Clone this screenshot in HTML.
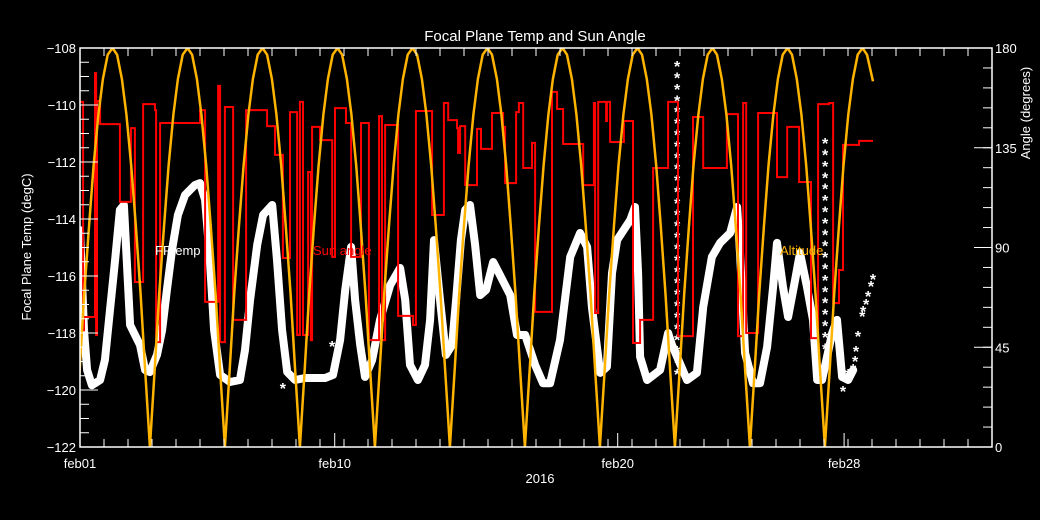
<!DOCTYPE html>
<html><head><meta charset="utf-8"><style>
html,body{margin:0;padding:0;background:#000;}
svg{display:block;}
text{font-family:"Liberation Sans",sans-serif;}
</style></head><body>
<svg id="chart" width="1040" height="520" viewBox="0 0 1040 520" xmlns="http://www.w3.org/2000/svg">
<rect width="1040" height="520" fill="#000"/>
<text x="535" y="41" fill="#fff" font-size="15" text-anchor="middle">Focal Plane Temp and Sun Angle</text>
<defs><clipPath id="plotclip"><rect x="80" y="48" width="912" height="399"/></clipPath></defs>
<g id="marks" clip-path="url(#plotclip)"></g>
<g id="axes"></g>
<text x="155" y="255" fill="#fff" font-size="13">FPtemp</text>
<text x="313" y="255" fill="#ff0000" font-size="13">Sun angle</text>
<text x="780" y="255" fill="#ffb400" font-size="13">Altitude</text>
<text x="540" y="483" fill="#fff" font-size="13" text-anchor="middle">2016</text>
<text transform="translate(31,247) rotate(-90)" fill="#fff" font-size="13" text-anchor="middle">Focal Plane Temp (degC)</text>
<text transform="translate(1030,113) rotate(-90)" fill="#fff" font-size="13" text-anchor="middle">Angle (degrees)</text>
</svg>
<script>
const xTickDays = [1, 10, 20, 28];
const xTickLabels = ['feb01', 'feb10', 'feb20', 'feb28'];
const yTicksLeft = [-122, -120, -118, -116, -114, -112, -110, -108];
const yTicksRight = [0, 45, 90, 135, 180];

const sunDay = [
 0.82,0.99,1.15,1.32,1.48,1.65,1.81,1.98,2.15,2.31,2.48,2.64,2.81,2.97,3.14,3.30,
 3.47,3.64,3.80,3.97,4.13,4.30,4.46,4.63,4.80,4.96,5.13,5.29,5.46,5.62,5.79,5.95,
 6.12,6.29,6.45,6.62,6.78,6.95,7.11,7.28,7.45,7.61,7.78,7.94,8.11,8.27,8.44,8.60,
 8.77,8.94,9.10,9.27,9.43,9.60,9.76,9.93,10.10,10.26,10.43,10.59,10.76,10.92,11.09,11.25,
 11.42,11.59,11.75,11.92,12.08,12.25,12.41,12.58,12.75,12.91,13.08,13.24,13.41,13.57,13.74,13.90,
 14.07,14.24,14.40,14.57,14.73,14.90,15.06,15.23,15.40,15.56,15.73,15.89,16.06,16.22,16.39,16.55,
 16.72,16.89,17.05,17.22,17.38,17.55,17.71,17.88,18.05,18.21,18.38,18.54,18.71,18.87,19.04,19.20,
 19.37,19.54,19.70,19.87,20.03,20.20,20.36,20.53,20.70,20.86,21.03,21.19,21.36,21.52,21.69,21.85,
 22.02,22.19,22.35,22.52,22.68,22.85,23.01,23.18,23.35,23.51,23.68,23.84,24.01,24.17,24.34,24.50,
 24.67,24.84,25.00,25.17,25.33,25.50,25.66,25.83,26.00,26.16,26.33,26.49,26.66,26.82,26.99,27.15,
 27.32,27.49,27.65,27.82,27.98,28.15,28.31,28.48,28.65,28.81,29.02];
const sunAngle = [
 0,35,69,100,127,150,166,177,180,177,166,150,127,100,69,35,
 0,35,69,100,127,150,166,177,180,177,166,150,127,100,69,35,
 0,35,69,100,127,150,166,177,180,177,166,150,127,100,69,35,
 0,35,69,100,127,150,166,177,180,177,166,150,127,100,69,35,
 0,35,69,100,127,150,166,177,180,177,166,150,127,100,69,35,
 0,35,69,100,127,150,166,177,180,177,166,150,127,100,69,35,
 0,35,69,100,127,150,166,177,180,177,166,150,127,100,69,35,
 0,35,69,100,127,150,166,177,180,177,166,150,127,100,69,35,
 0,35,69,100,127,150,166,177,180,177,166,150,127,100,69,35,
 0,35,69,100,127,150,166,177,180,177,166,150,127,100,69,35,
 0,35,69,100,127,150,166,177,180,177,165];

const redDay = [1.00,1.11,1.14,1.53,1.57,1.60,1.71,2.41,2.80,2.94,3.23,3.65,3.69,3.83,5.24,5.42,5.88,5.95,6.12,6.41,6.87,7.61,7.89,8.17,8.42,8.67,8.77,8.88,9.06,9.16,9.20,9.48,9.91,10.01,10.40,10.58,10.93,11.21,11.57,11.67,11.78,12.24,12.77,12.87,13.44,13.86,14.01,14.32,14.36,14.43,14.61,15.03,15.17,15.56,15.95,16.02,16.41,16.51,16.66,16.97,17.08,17.68,17.86,18.07,18.78,19.16,19.20,19.31,19.59,19.62,19.73,20.22,20.54,20.79,21.25,21.78,22.13,22.66,23.02,23.86,24.25,24.43,24.54,24.96,25.63,25.99,26.41,26.83,27.08,27.47,27.61,27.82,27.96,28.53,28.64,29.02];
const redTemp = [-109.89,-117.90,-117.44,-108.88,-118.07,-109.86,-110.67,-113.40,-110.81,-116.21,-109.97,-110.18,-118.32,-110.63,-110.18,-116.91,-109.33,-118.32,-110.07,-117.54,-110.18,-110.74,-111.75,-115.37,-110.25,-118.07,-109.89,-118.07,-112.35,-118.25,-110.77,-111.23,-115.33,-110.11,-110.63,-115.33,-110.63,-118.25,-110.39,-118.25,-110.70,-117.40,-117.72,-110.21,-113.86,-109.93,-110.53,-110.81,-111.68,-110.74,-112.81,-110.84,-111.54,-110.28,-110.77,-112.74,-110.25,-109.93,-112.21,-111.33,-117.26,-109.54,-110.14,-111.37,-112.81,-109.93,-117.30,-109.89,-110.56,-109.89,-111.30,-110.56,-118.35,-117.54,-112.21,-109.89,-118.11,-110.42,-112.21,-110.32,-118.11,-109.93,-118.00,-110.28,-112.53,-110.77,-112.70,-118.18,-109.97,-109.93,-116.95,-115.79,-111.40,-111.26,-111.26,-111.26];

const fpDay = [1.00,1.14,1.25,1.42,1.71,1.88,2.06,2.24,2.41,2.55,2.77,3.12,3.30,3.47,3.72,3.90,4.07,4.25,4.46,4.71,5.06,5.24,5.42,5.59,5.74,5.95,6.30,6.65,6.83,7.01,7.26,7.47,7.79,7.96,8.14,8.32,8.60,8.95,9.30,9.66,9.94,10.19,10.37,10.58,10.72,10.90,11.07,11.32,11.60,11.96,12.31,12.49,12.66,12.94,13.19,13.37,13.51,13.72,13.93,14.15,14.29,14.46,14.61,14.78,14.96,15.14,15.35,15.60,15.84,16.20,16.44,16.73,17.08,17.36,17.61,17.96,18.32,18.67,18.92,19.09,19.38,19.62,19.80,19.98,20.44,20.61,20.72,20.79,21.04,21.50,21.78,21.92,22.45,22.80,23.02,23.33,23.62,23.97,24.22,24.32,24.50,24.78,25.03,25.28,25.49,25.63,25.84,26.02,26.27,26.44,26.69,26.90,27.05,27.22,27.58,27.75,27.93,28.14,28.32];
const fpTemp = [-114.39,-117.90,-119.30,-119.83,-119.65,-118.95,-117.19,-115.44,-113.68,-113.51,-117.72,-118.42,-119.30,-119.37,-118.77,-117.90,-116.49,-115.09,-113.86,-113.16,-112.81,-112.74,-113.33,-115.44,-117.90,-119.47,-119.72,-119.65,-118.60,-116.84,-114.91,-113.86,-113.51,-115.44,-117.90,-119.37,-119.65,-119.58,-119.58,-119.58,-119.47,-118.25,-116.49,-114.98,-116.84,-118.42,-119.54,-118.95,-117.54,-116.32,-115.72,-116.84,-119.12,-119.65,-119.12,-117.54,-114.74,-116.84,-118.77,-118.42,-116.84,-114.74,-113.68,-113.51,-114.91,-116.67,-116.49,-115.51,-115.97,-116.67,-118.07,-118.07,-119.12,-119.76,-119.76,-118.25,-115.33,-114.49,-114.98,-117.09,-119.40,-119.19,-115.90,-114.74,-114.04,-113.58,-115.90,-118.84,-119.65,-119.30,-118.00,-118.42,-119.65,-119.40,-117.09,-115.33,-114.84,-114.49,-113.58,-115.19,-118.70,-119.76,-119.76,-118.49,-116.39,-114.84,-116.39,-117.44,-116.14,-115.19,-116.39,-117.54,-119.65,-119.65,-118.00,-117.54,-119.54,-119.65,-119.30];

const starDay = [2.55,2.63,2.70,2.73,8.17,9.91,10.82,27.96,28.14,28.32,28.39,28.42,28.49,28.64,28.67,28.78,28.85,28.95,29.02,
 27.33,27.33,27.33,27.33,27.33,27.33,27.33,27.33,27.33,27.33,27.33,27.33,27.33,27.33,27.33,27.33,27.33,27.33,27.33,
 22.10,22.10,22.10,22.10,22.10,22.10,22.10,22.10,22.10,22.10,22.10,22.10,22.10,22.10,22.10,22.10,22.10,22.10,22.10,22.10,22.10,22.10,22.10,22.10,22.10,22.10,22.10,22.10];
const starTemp = [-114.21,-115.02,-115.86,-116.77,-119.90,-118.42,-118.07,-120.00,-119.40,-119.23,-118.95,-118.60,-118.07,-117.37,-117.19,-116.95,-116.67,-116.32,-116.07,
 -111.3,-111.7,-112.1,-112.5,-112.9,-113.3,-113.7,-114.1,-114.5,-114.9,-115.3,-115.7,-116.1,-116.5,-116.9,-117.3,-117.7,-118.1,-118.5,
 -108.6,-109.0,-109.4,-109.8,-110.2,-110.6,-111.0,-111.4,-111.8,-112.2,-112.6,-113.0,-113.4,-113.8,-114.2,-114.6,-115.0,-115.4,-115.8,-116.2,-116.6,-117.0,-117.4,-117.8,-118.2,-118.6,-119.0,-119.4];

const X0 = 80, X1 = 992, Y0 = 48, Y1 = 447;
const DAY_PX = 28.3;
function xs(d){ return X0 + (d - 1) * DAY_PX; }
function yT(t){ return Y0 + (-108 - t) / 14 * (Y1 - Y0); }
function yA(a){ return Y1 - a / 180 * (Y1 - Y0); }

const NS = 'http://www.w3.org/2000/svg';
const marks = document.getElementById('marks');
const axes = document.getElementById('axes');
function mk(tag, attrs, parent){
  const e = document.createElementNS(NS, tag);
  for (const k in attrs) e.setAttribute(k, attrs[k]);
  parent.appendChild(e);
  return e;
}

let pts = fpDay.map((d,i)=>xs(d).toFixed(1)+','+yT(fpTemp[i]).toFixed(1)).join(' ');
const fp = mk('polyline', {points: pts, fill:'none', stroke:'#fff', 'stroke-width':8, 'stroke-linejoin':'round', 'stroke-linecap':'round'}, marks);



starDay.forEach((d,i)=>{
  const t = mk('text', {x: xs(d), y: yT(starTemp[i]) + 7, fill:'#fff', 'font-size':16, 'font-weight':'bold', 'text-anchor':'middle'}, marks);
  t.textContent = '*';
  
  
});

let d = '';
redDay.forEach((dd,i)=>{
  const x = xs(dd).toFixed(1), y = yT(redTemp[i]).toFixed(1);
  if (i === 0) d += 'M' + x + ',' + y;
  else d += ' H' + x + ' V' + y;
});
d += ' H' + xs(29.02).toFixed(1);
const red = mk('path', {d: d, fill:'none', stroke:'#ff0000', 'stroke-width':2}, marks);



pts = sunDay.map((dd,i)=>xs(dd).toFixed(1)+','+yA(sunAngle[i]).toFixed(1)).join(' ');
const alt = mk('polyline', {points: pts, fill:'none', stroke:'#ffb400', 'stroke-width':2.5, 'stroke-linejoin':'round'}, marks);



const frame = mk('rect', {x:X0, y:Y0, width:X1-X0, height:Y1-Y0, fill:'none', stroke:'#fff', 'stroke-width':1.5}, axes);



for (let x = X0; x <= X1; x += 24){
  mk('line', {x1:x, x2:x, y1:Y1, y2:Y1-8, stroke:'#fff', 'stroke-width':1}, axes);
  mk('line', {x1:x, x2:x, y1:Y0, y2:Y0+8, stroke:'#fff', 'stroke-width':1}, axes);
}
xTickDays.forEach((dd,i)=>{
  const x = xs(dd);
  mk('line', {x1:x, x2:x, y1:Y1, y2:Y1-14, stroke:'#fff'}, axes);
  const t = mk('text', {x:x, y:468, fill:'#fff', 'font-size':13, 'text-anchor':'middle'}, axes);
  t.textContent = xTickLabels[i];
  
  
});
for (let v = -122; v <= -108.01; v += 0.5){
  const y = yT(v);
  mk('line', {x1:X0, x2:X0+9, y1:y, y2:y, stroke:'#fff'}, axes);
}
yTicksLeft.forEach(v=>{
  const y = yT(v);
  mk('line', {x1:X0, x2:X0+18, y1:y, y2:y, stroke:'#fff'}, axes);
  const t = mk('text', {x:76, y:y+5, fill:'#fff', 'font-size':13, 'text-anchor':'end'}, axes);
  t.textContent = '\u2212' + Math.abs(v);
  
  
});
for (let a = 0; a <= 180; a += 9){
  const y = yA(a);
  mk('line', {x1:X1, x2:X1-9, y1:y, y2:y, stroke:'#fff'}, axes);
}
yTicksRight.forEach(a=>{
  const y = yA(a);
  mk('line', {x1:X1, x2:X1-18, y1:y, y2:y, stroke:'#fff'}, axes);
  const t = mk('text', {x:995, y:y+5, fill:'#fff', 'font-size':13}, axes);
  t.textContent = a;
  
  
});
</script>
</body></html>
